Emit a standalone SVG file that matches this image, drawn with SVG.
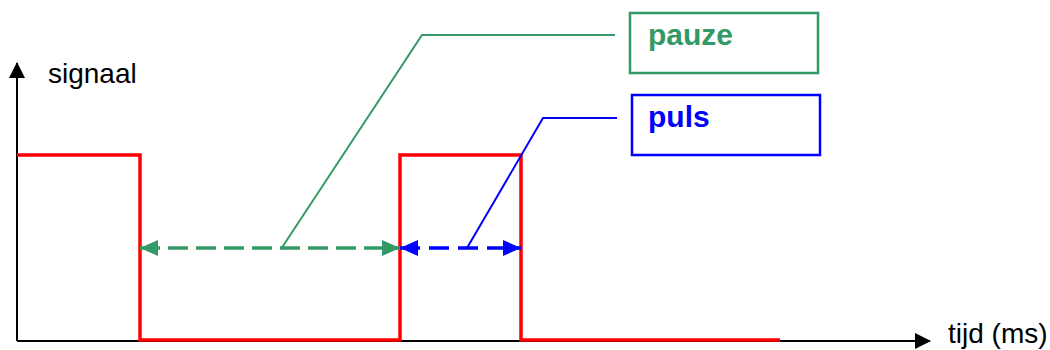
<svg xmlns="http://www.w3.org/2000/svg" width="1050" height="350" viewBox="0 0 1050 350">
<style>
.axis{stroke:#000;stroke-width:2;fill:none}
.sig{stroke:#ff0000;stroke-width:3.5;fill:none;stroke-linejoin:miter}
.lbl{font-family:"Liberation Sans",Arial,sans-serif;font-size:28px;fill:#000}
.box-t{font-family:"Liberation Sans",Arial,sans-serif;font-size:30px;font-weight:bold}
.green{stroke:#339966}
.blue{stroke:#0000ff}
</style>
<defs>
<marker id="ah" markerUnits="userSpaceOnUse" markerWidth="16" markerHeight="16" viewBox="0 0 16 16" refX="15" refY="8" orient="auto"><path d="M0,0 L16,8 L0,16 Z" fill="#000"/></marker>
<marker id="ag" markerUnits="userSpaceOnUse" markerWidth="18" markerHeight="18" viewBox="0 0 18 18" refX="18" refY="9" orient="auto-start-reverse"><path d="M0,1 L18,9 L0,17 Z" fill="#339966"/></marker>
<marker id="ab" markerUnits="userSpaceOnUse" markerWidth="18" markerHeight="18" viewBox="0 0 18 18" refX="18" refY="9" orient="auto-start-reverse"><path d="M0,1 L18,9 L0,17 Z" fill="#0000ff"/></marker>
</defs>
<g id="axes">
<line class="axis" x1="17" y1="341" x2="17" y2="63" marker-end="url(#ah)"/>
<line class="axis" x1="17" y1="341" x2="930" y2="341" marker-end="url(#ah)"/>
<text class="lbl" x="48" y="83">signaal</text>
<text class="lbl" x="948" y="343">tijd (ms)</text>
</g>
<g id="signal">
<polyline class="sig" points="17,155 140,155 140,340 400,340 400,155 521,155 521,340 780,340"/>
</g>
<g id="connectors">
<line x1="140" y1="248" x2="400" y2="248" class="green" stroke-width="3.5" stroke-dasharray="20 8" marker-start="url(#ag)" marker-end="url(#ag)"/>
<line x1="400" y1="248" x2="521" y2="248" class="blue" stroke-width="3.5" stroke-dasharray="20 9" marker-start="url(#ab)" marker-end="url(#ab)"/>
<polyline points="281,249 422,35 615,35" fill="none" class="green" stroke-width="2"/>
<polyline points="467,248 543,118 617,118" fill="none" class="blue" stroke-width="2"/>
</g>
<g id="pauze">
<rect x="630" y="13" width="188" height="60" fill="#fff" class="green" stroke-width="2.5"/>
<text class="box-t" x="648" y="45" fill="#339966">pauze</text>
</g>
<g id="puls">
<rect x="632" y="95" width="188" height="60" fill="#fff" class="blue" stroke-width="2.5"/>
<text class="box-t" x="648" y="127" fill="#0000ff">puls</text>
</g>
</svg>
